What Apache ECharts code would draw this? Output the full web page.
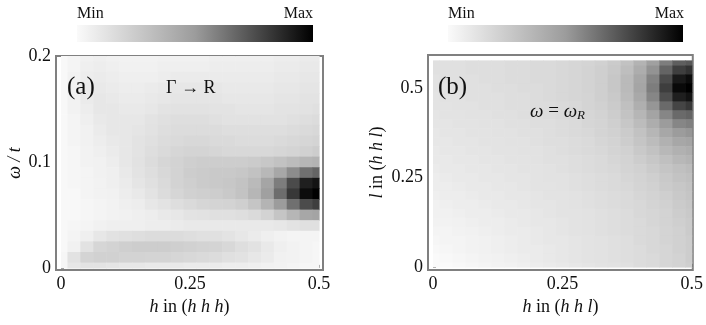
<!DOCTYPE html>
<html>
<head>
<meta charset="utf-8">
<script src="https://cdn.jsdelivr.net/npm/echarts@6/dist/echarts.min.js"></script>
<style>
html,body{margin:0;padding:0;background:#fff;}
#chart{width:706px;height:325px;}
</style>
</head>
<body>
<div id="chart"></div>
<script>
// ---------- data ----------
const hValues = [0, 0.025, 0.05, 0.075, 0.1, 0.125, 0.15, 0.175, 0.2, 0.225, 0.25, 0.275, 0.3, 0.325, 0.35, 0.375, 0.4, 0.425, 0.45, 0.475, 0.5];
const omegaValues = [0.20, 0.19, 0.18, 0.17, 0.16, 0.15, 0.14, 0.13, 0.12, 0.11, 0.10, 0.09, 0.08, 0.07, 0.06, 0.05, 0.04, 0.03, 0.02, 0.01, 0.00];
const lValues = [0.575, 0.55, 0.525, 0.5, 0.475, 0.45, 0.425, 0.4, 0.375, 0.35, 0.325, 0.3, 0.275, 0.25, 0.225, 0.2, 0.175, 0.15, 0.125, 0.1, 0.075, 0.05, 0.025, 0];

// panel (a): intensity (0 = Min, 100 = Max), rows follow omegaValues, columns follow hValues
const intensityA = [
  [1,3,5,6,5,4,4,4,5,5,5,5,6,6,6,6,6,7,7,8,8],
  [1,3,6,7,6,5,5,5,6,6,6,6,7,7,7,7,7,8,8,9,9],
  [1,4,7,8,7,6,6,6,7,8,8,8,8,8,8,8,8,9,9,10,10],
  [1,4,8,9,8,7,7,8,9,10,10,10,10,9,9,9,9,10,10,11,11],
  [1,4,8,10,9,8,8,9,10,11,11,11,11,10,10,10,10,11,11,12,12],
  [1,4,7,10,10,9,9,10,12,13,13,13,12,12,11,11,11,12,12,13,14],
  [1,3,6,9,10,10,10,12,14,15,15,15,14,13,13,13,13,13,14,15,16],
  [1,3,5,8,10,10,11,13,15,16,16,16,16,15,15,15,15,15,16,17,18],
  [1,3,5,7,9,10,12,14,16,17,18,18,17,17,16,16,16,17,18,19,20],
  [1,2,4,6,8,10,12,15,17,19,20,20,19,18,18,18,18,19,20,22,24],
  [1,2,4,5,7,10,13,16,19,21,23,24,24,24,24,25,27,30,33,36,38],
  [1,2,3,5,6,9,12,15,18,21,24,25,26,26,27,30,35,44,55,64,68],
  [1,2,3,4,6,8,11,14,17,21,23,25,26,27,29,34,45,60,76,90,94],
  [1,1,3,4,5,7,9,12,16,19,22,23,24,26,29,36,48,65,82,96,100],
  [1,1,2,3,4,6,7,10,12,15,17,19,20,21,23,28,37,50,64,76,80],
  [1,1,2,3,4,5,6,7,9,10,12,13,14,14,15,17,21,28,36,44,46],
  [1,2,3,5,6,6,6,7,7,8,9,9,9,9,9,9,9,10,12,14,14],
  [1,3,6,10,13,14,15,16,16,16,15,14,14,12,10,8,6,4,3,3,3],
  [1,5,13,19,21,23,24,24,24,23,22,21,20,18,15,13,9,6,4,3,2],
  [2,13,20,22,22,21,21,20,20,19,18,17,16,14,13,10,8,5,4,3,2],
  [2,10,12,12,11,10,10,9,9,9,8,8,8,7,7,6,5,4,3,2,2]
];

// panel (b): intensity, rows follow lValues, columns follow hValues
const intensityB = [
  [14,14,14,15,15,15,16,16,17,17,18,19,20,22,25,30,38,48,60,70,72],
  [14,14,14,15,15,15,16,16,17,17,18,19,21,23,26,32,41,53,68,80,84],
  [13,14,14,14,15,15,16,16,17,17,18,19,21,23,27,34,44,58,76,92,96],
  [13,13,14,14,14,15,15,16,16,17,18,19,21,23,27,34,45,60,80,97,100],
  [12,13,13,14,14,14,15,15,16,17,18,19,20,23,26,33,43,57,75,90,94],
  [12,12,13,13,14,14,15,15,16,16,17,18,20,22,25,31,40,52,66,78,82],
  [11,12,12,13,13,14,14,15,15,16,17,18,19,21,24,29,36,46,57,66,68],
  [11,11,12,12,13,13,14,14,15,15,16,17,19,20,23,27,33,41,50,57,59],
  [10,11,11,12,12,13,13,14,14,15,16,17,18,20,22,25,30,36,44,50,52],
  [10,10,11,11,12,12,13,13,14,15,15,16,17,19,21,24,28,33,39,44,46],
  [9,10,10,11,11,12,12,13,13,14,15,16,17,18,20,22,26,30,35,39,41],
  [9,9,10,10,11,11,12,12,13,14,14,15,16,17,19,21,24,27,31,35,37],
  [8,9,9,10,10,11,11,12,12,13,14,15,16,17,18,20,22,25,28,31,33],
  [7,8,9,9,10,10,11,11,12,13,13,14,15,16,17,19,21,23,26,29,31],
  [7,7,8,9,9,10,10,11,12,12,13,14,15,16,17,18,20,22,25,27,29],
  [6,7,7,8,9,9,10,10,11,12,12,13,14,15,16,17,19,21,23,26,28],
  [5,6,7,7,8,9,9,10,11,11,12,13,14,15,16,17,18,20,22,25,27],
  [5,5,6,7,7,8,9,9,10,11,12,12,13,14,15,16,18,19,21,24,26],
  [4,4,5,6,7,7,8,9,10,10,11,12,13,14,15,16,17,19,21,23,25],
  [3,3,4,5,6,7,8,8,9,10,11,12,13,14,15,16,17,18,20,22,25],
  [2,3,3,4,5,6,7,8,9,10,10,11,12,13,14,15,17,18,20,22,24],
  [1,2,3,4,5,6,7,8,8,9,10,11,12,13,14,15,16,18,19,22,24],
  [0,1,2,3,4,5,6,7,8,9,10,11,12,13,14,15,16,17,19,21,24],
  [0,0,1,2,3,4,5,6,7,8,9,10,11,12,13,14,16,17,19,21,23]
];

const xTicksA = [0, 0.25, 0.5];
const yTicksA = [0, 0.1, 0.2];
const xTicksB = [0, 0.25, 0.5];
const yTicksB = [0, 0.25, 0.5];
const extentA = { h: [0, 0.5], y: [0, 0.2] };
const extentB = { h: [0, 0.5], y: [0, 0.577] };
const grayStops = ['#fafafa', '#9c9c9c', '#000000'];

// ---------- build ----------
function toTriples(rowsVals, colsVals, grid) {
  const out = [];
  grid.forEach((row, r) => row.forEach((v, c) => out.push([colsVals[c], rowsVals[r], v])));
  return out;
}
const dataA = toTriples(omegaValues, hValues, intensityA);
const dataB = toTriples(lValues, hValues, intensityB);

function makeRender(hStep, yStep, ext) {
  return function (params, api) {
    const h = api.value(0), y = api.value(1);
    const x0 = Math.max(ext.h[0], h - hStep / 2), x1 = Math.min(ext.h[1], h + hStep / 2);
    const y0 = Math.max(ext.y[0], y - yStep / 2), y1 = Math.min(ext.y[1], y + yStep / 2);
    const p0 = api.coord([x0, y1]), p1 = api.coord([x1, y0]);
    return {
      type: 'rect',
      shape: { x: p0[0], y: p0[1], width: p1[0] - p0[0] + 0.6, height: p1[1] - p0[1] + 0.6 },
      style: { fill: api.visual('color') }
    };
  };
}

const FONT = '"Liberation Serif", "Times New Roman", serif';
const tickLabel = { fontFamily: FONT, fontSize: 18, color: '#111' };

function axisCommon(ticks) {
  return {
    type: 'value',
    axisLine: { show: false },
    splitLine: { show: false },
    axisTick: { show: true, inside: true, length: 3, customValues: ticks, lineStyle: { color: '#555', width: 1 } },
    axisLabel: Object.assign({ customValues: ticks, margin: 5 }, tickLabel)
  };
}

const nameStyle = {
  fontFamily: FONT, fontSize: 18, color: '#111',
  rich: { i: { fontFamily: FONT, fontSize: 18, fontStyle: 'italic', color: '#111' },
          n: { fontFamily: FONT, fontSize: 18, color: '#111' } }
};

function gradFill() {
  return new echarts.graphic.LinearGradient(0, 0, 1, 0,
    grayStops.map((c, i) => ({ offset: i / (grayStops.length - 1), color: c })));
}

const chart = echarts.init(document.getElementById('chart'), null, { renderer: 'canvas' });
chart.setOption({
  animation: false,
  backgroundColor: '#fff',
  grid: [
    { left: 56, top: 56, width: 267, height: 214, show: true, borderColor: '#808080', borderWidth: 2, backgroundColor: 'transparent' },
    { left: 428, top: 55, width: 265, height: 215, show: true, borderColor: '#808080', borderWidth: 2, backgroundColor: 'transparent' }
  ],
  xAxis: [
    Object.assign(axisCommon(xTicksA), { gridIndex: 0, min: -0.0097, max: 0.5078,
      name: '{i|h}{n| in (}{i|h h h}{n|)}', nameLocation: 'middle', nameGap: 19, nameTextStyle: nameStyle }),
    Object.assign(axisCommon(xTicksB), { gridIndex: 1, min: -0.0097, max: 0.502,
      name: '{i|h}{n| in (}{i|h h l}{n|)}', nameLocation: 'middle', nameGap: 19, nameTextStyle: nameStyle })
  ],
  yAxis: [
    Object.assign(axisCommon(yTicksA), { gridIndex: 0, min: -0.002, max: 0.2,
      name: '{i|ω / t}', nameLocation: 'middle', nameGap: 32, nameRotate: 90, nameTextStyle: nameStyle }),
    Object.assign(axisCommon(yTicksB), { gridIndex: 1, min: -0.0084, max: 0.592,
      name: '{i|l}{n| in (}{i|h h l}{n|)}', nameLocation: 'middle', nameGap: 42, nameRotate: 90, nameTextStyle: nameStyle })
  ],
  visualMap: [
    { type: 'continuous', show: false, seriesIndex: 0, dimension: 2, min: 0, max: 100, inRange: { color: grayStops } },
    { type: 'continuous', show: false, seriesIndex: 1, dimension: 2, min: 0, max: 100, inRange: { color: grayStops } }
  ],
  series: [
    { type: 'custom', xAxisIndex: 0, yAxisIndex: 0, clip: true, data: dataA,
      renderItem: makeRender(0.025, 0.01, extentA), z: 1 },
    { type: 'custom', xAxisIndex: 1, yAxisIndex: 1, clip: true, data: dataB,
      renderItem: makeRender(0.025, 0.025, extentB), z: 1 }
  ],
  graphic: [
    { type: 'rect', left: 77, top: 25, shape: { width: 236, height: 17 }, style: { fill: gradFill() } },
    { type: 'rect', left: 448, top: 25, shape: { width: 235, height: 17 }, style: { fill: gradFill() } },
    { type: 'text', left: 77, top: 6, style: { text: 'Min', font: '16px ' + FONT, fill: '#111' } },
    { type: 'text', right: 706 - 313, top: 6, style: { text: 'Max', font: '16px ' + FONT, fill: '#111' } },
    { type: 'text', left: 448, top: 6, style: { text: 'Min', font: '16px ' + FONT, fill: '#111' } },
    { type: 'text', right: 706 - 684, top: 6, style: { text: 'Max', font: '16px ' + FONT, fill: '#111' } },
    { type: 'text', left: 67, top: 75, z: 10, style: { text: '(a)', font: '25px ' + FONT, fill: '#111' } },
    { type: 'text', left: 166, top: 79, z: 10, style: { text: 'Γ → R', font: '18px ' + FONT, fill: '#111' } },
    { type: 'text', left: 438, top: 75, z: 10, style: { text: '(b)', font: '25px ' + FONT, fill: '#111' } },
    { type: 'text', left: 530, top: 102, z: 10, style: {
        text: '{i|ω}{n| = }{i|ω}{s|R}',
        rich: { i: { font: 'italic 19px ' + FONT, fill: '#111' }, n: { font: '19px ' + FONT, fill: '#111' },
                s: { font: 'italic 13px ' + FONT, fill: '#111', verticalAlign: 'bottom', padding: [9, 0, 0, 0] } } } }
  ]
});
</script>
</body>
</html>
